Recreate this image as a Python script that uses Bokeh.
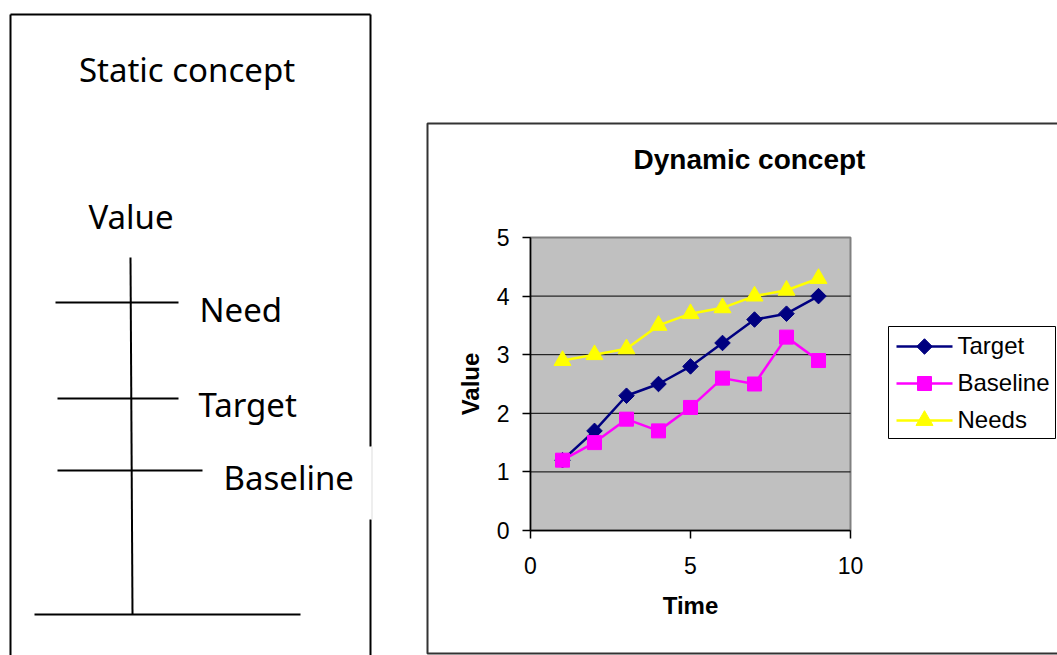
import math
from bokeh.plotting import figure
from bokeh.models import Range1d, FixedTicker, LinearAxis
from bokeh.embed import file_html
from bokeh.resources import INLINE
from bokeh.core.properties import value

# ---------------- data ----------------
time = [1, 2, 3, 4, 5, 6, 7, 8, 9]
target = [1.2, 1.7, 2.3, 2.5, 2.8, 3.2, 3.6, 3.7, 4.0]
baseline = [1.2, 1.5, 1.9, 1.7, 2.1, 2.6, 2.5, 3.3, 2.9]
needs = [2.9, 3.0, 3.1, 3.5, 3.7, 3.8, 4.0, 4.1, 4.3]
x_ticks = [0, 5, 10]
y_ticks = [0, 1, 2, 3, 4, 5]
series_names = ["Target", "Baseline", "Needs"]

static_title = "Static concept"
static_axis_label = "Value"
static_labels = ["Need", "Target", "Baseline"]

# styles
series_colors = ["#000080", "#FF00FF", "#FFFF00"]
series_markers = ["square", "square", "triangle"]
series_sizes = [11, 14, 17]
series_angles = [math.pi / 4, 0, 0]

W, H = 1057, 655
XPX0, XPX1 = 530, 850      # page pixels of x = 0 and x = 10
YPX0, YPX1 = 530, 237      # page pixels of y = 0 and y = 5
sx = (XPX1 - XPX0) / (x_ticks[-1] - x_ticks[0])
sy = (YPX0 - YPX1) / (y_ticks[-1] - y_ticks[0])

p = figure(width=W, height=H, x_range=Range1d(0, W), y_range=Range1d(H, 0),
           x_axis_type=None, y_axis_type=None, output_backend="svg",
           toolbar_location=None, min_border=0)
p.grid.visible = False
p.outline_line_color = None
p.background_fill_color = "white"
p.border_fill_color = "white"
p.extra_x_ranges = {"cx": Range1d((0 - XPX0) / sx, (W - XPX0) / sx)}
p.extra_y_ranges = {"cy": Range1d((YPX0 - H) / sy, YPX0 / sy)}

# ---------------- left panel: static concept ----------------
frame_x0 = [10, 10, 370, 370]
frame_y0 = [14, 14, 14, 519]
frame_x1 = [370, 10, 370, 370]
frame_y1 = [14, 700, 446, 700]
p.segment(x0=frame_x0, y0=frame_y0, x1=frame_x1, y1=frame_y1, line_color="black", line_width=2)
p.segment(x0=[371.5], y0=[446], x1=[371.5], y1=[519], line_color="#dddddd", line_width=1)

p.segment(x0=[130, 34], y0=[257, 614], x1=[132, 300], y1=[614, 614], line_color="black", line_width=2)

level_x0 = [55, 57, 57]
level_x1 = [178, 178, 202]
level_y = [302, 398, 470]
p.segment(x0=level_x0, y0=level_y, x1=level_x1, y1=level_y, line_color="black", line_width=2)

label_x = [199, 198, 223]
label_y = [309, 404, 477]
p.text(x=label_x, y=label_y, text=static_labels, text_font=value("Noto Sans"),
       text_font_size="33px", text_baseline="alphabetic", text_align="left", text_color="black")
p.text(x=[186.5, 130.5], y=[69, 216], text=[static_title, static_axis_label],
       text_font=value("Noto Sans"), text_font_size="33px", text_baseline="alphabetic",
       text_align="center", text_color="black")

# ---------------- right panel: dynamic concept chart ----------------
p.quad(left=[427], right=[1100], top=[123], bottom=[653], fill_color=None,
       line_color="#333333", line_width=2)
p.text(x=[749], y=[159], text=["Dynamic concept"], text_font=value("Liberation Sans"),
       text_font_style="bold", text_font_size="28px", text_baseline="alphabetic",
       text_align="center", text_color="black")

# plot area
p.quad(left=[x_ticks[0]], right=[x_ticks[-1]], bottom=[y_ticks[0]], top=[y_ticks[-1]],
       x_range_name="cx", y_range_name="cy", fill_color="#C0C0C0",
       line_color="#808080", line_width=2)
grid_y = y_ticks[1:-1]
p.segment(x0=[x_ticks[0]] * len(grid_y), x1=[x_ticks[-1]] * len(grid_y), y0=grid_y, y1=grid_y,
          x_range_name="cx", y_range_name="cy", line_color="black", line_width=1)

xax = LinearAxis(x_range_name="cx", y_range_name="cy", fixed_location=y_ticks[0],
                 bounds=(x_ticks[0], x_ticks[-1]), ticker=FixedTicker(ticks=x_ticks), axis_label="Time")
yax = LinearAxis(x_range_name="cx", y_range_name="cy", fixed_location=x_ticks[0],
                 bounds=(y_ticks[0], y_ticks[-1]), ticker=FixedTicker(ticks=y_ticks), axis_label="Value")
for ax in (xax, yax):
    ax.axis_line_color = "black"
    ax.axis_line_width = 1.5
    ax.major_tick_line_color = "black"
    ax.major_tick_line_width = 1.5
    ax.major_tick_out = 8
    ax.major_tick_in = 0
    ax.minor_tick_out = 0
    ax.minor_tick_in = 0
    ax.major_label_text_font = "Liberation Sans"
    ax.major_label_text_font_size = "23px"
    ax.major_label_text_color = "black"
    ax.axis_label_text_font = "Liberation Sans"
    ax.axis_label_text_font_size = "24px"
    ax.axis_label_text_font_style = "bold"
    ax.axis_label_text_color = "black"
xax.major_label_standoff = 18
xax.axis_label_standoff = 15
yax.major_label_standoff = 13
yax.axis_label_standoff = 10
p.add_layout(xax, "below")
p.add_layout(yax, "left")

for vals, col, mk, sz, ang in zip([target, baseline, needs], series_colors, series_markers,
                                  series_sizes, series_angles):
    p.line(time, vals, line_color=col, line_width=2.5, x_range_name="cx", y_range_name="cy")
    p.scatter(time, vals, marker=mk, angle=ang, size=sz, fill_color=col, line_color=col,
              x_range_name="cx", y_range_name="cy")

# legend (page-pixel coordinates)
p.quad(left=[888], right=[1055], top=[326], bottom=[438], fill_color="white",
       line_color="black", line_width=1)
leg_y = [346, 383, 420]
p.segment(x0=[896] * 3, x1=[952] * 3, y0=leg_y, y1=leg_y, line_color=series_colors, line_width=2.5)
for yy, col, mk, sz, ang in zip(leg_y, series_colors, series_markers, series_sizes, series_angles):
    p.scatter([924], [yy], marker=mk, angle=-ang, size=sz, fill_color=col, line_color=col)
p.text(x=[957] * 3, y=[v - 1 for v in leg_y], text=series_names, text_font=value("Liberation Sans"),
       text_font_size="24px", text_baseline="alphabetic", text_align="left", text_color="black")

open("out.html", "w").write(file_html(p, INLINE))
